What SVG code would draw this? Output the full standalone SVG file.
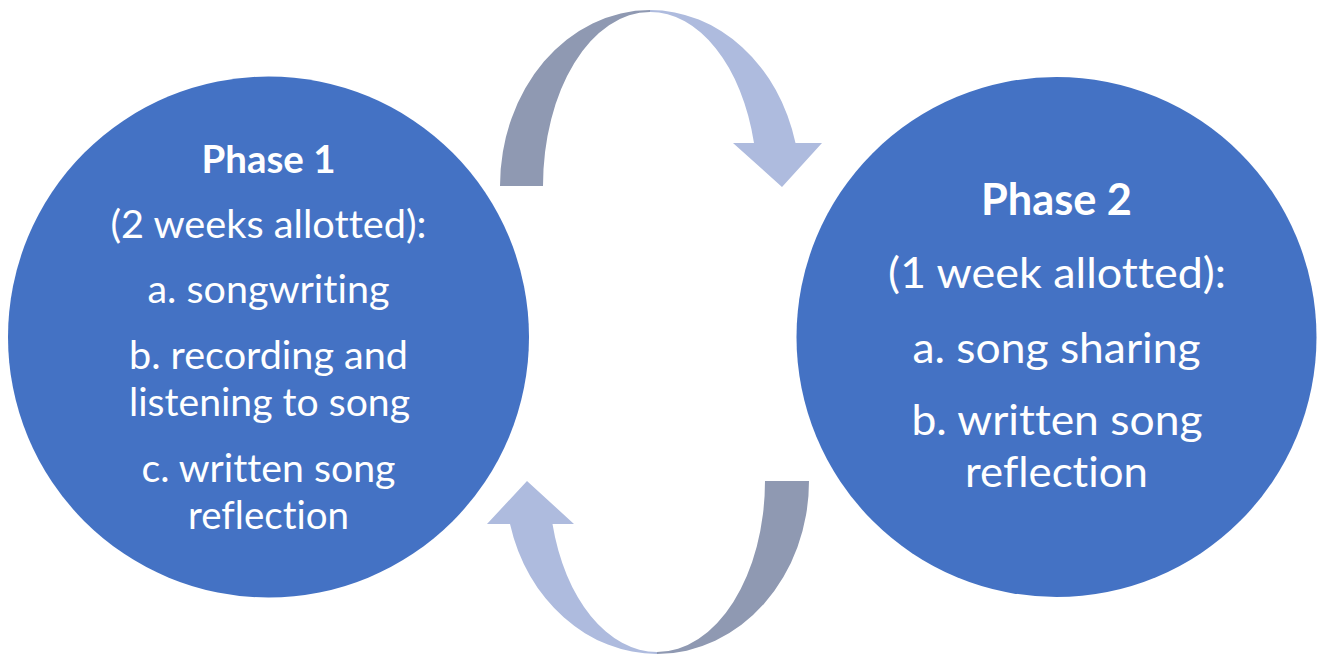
<svg xmlns="http://www.w3.org/2000/svg" width="1320" height="659" viewBox="0 0 1320 659">
<style>
.node{fill:#4472C4}
.t{font-family:Lato,"Liberation Sans",sans-serif;fill:#FFFFFF;text-anchor:middle;font-variant-ligatures:none}
.l{font-size:38px}
.r{font-size:43px}
.b{font-weight:bold}
.dark{fill:#8F99B2}
.light{fill:#AEBBDE}
</style>
<rect width="1320" height="659" fill="#FFFFFF"/>
<g id="phase1">
<circle class="node" cx="268.5" cy="337" r="260.5"/>
<text class="t l b" x="268.5" y="173" textLength="134" lengthAdjust="spacingAndGlyphs">Phase 1</text>
<text class="t l" x="268.5" y="238" textLength="316" lengthAdjust="spacingAndGlyphs">(2 weeks allotted):</text>
<text class="t l" x="268.5" y="303" textLength="242" lengthAdjust="spacingAndGlyphs">a. songwriting</text>
<text class="t l" x="268.5" y="369" textLength="279" lengthAdjust="spacingAndGlyphs">b. recording and</text>
<text class="t l" x="269.5" y="416" textLength="281" lengthAdjust="spacingAndGlyphs">listening to song</text>
<text class="t l" x="268.5" y="482" textLength="254" lengthAdjust="spacingAndGlyphs">c. written song</text>
<text class="t l" x="268.5" y="529" textLength="161" lengthAdjust="spacingAndGlyphs">reflection</text>
</g>
<g id="phase2">
<circle class="node" cx="1056.5" cy="337" r="260"/>
<text class="t r b" x="1056.5" y="215" textLength="151" lengthAdjust="spacingAndGlyphs">Phase 2</text>
<text class="t r" x="1057" y="288" textLength="338" lengthAdjust="spacingAndGlyphs">(1 week allotted):</text>
<text class="t r" x="1056.5" y="363" textLength="288" lengthAdjust="spacingAndGlyphs">a. song sharing</text>
<text class="t r" x="1057" y="435" textLength="291" lengthAdjust="spacingAndGlyphs">b. written song</text>
<text class="t r" x="1056.5" y="487" textLength="183" lengthAdjust="spacingAndGlyphs">reflection</text>
</g>
<g id="connectors">
<g id="arrow-top">
<path class="dark" d="M500 186 A150 176 0 0 1 650 10 L650 12 A107 174 0 0 0 543 186 Z"/>
<path class="light" d="M650 10 A150 176 0 0 1 795.5 143 L822 143 L782 187 L733 143 L754 143 A107 174 0 0 0 650 12 Z"/>
</g>
<g id="arrow-bottom">
<path class="dark" d="M809 481 A152 173 0 0 1 657 654 L657 652 A108 171 0 0 0 765 481 Z"/>
<path class="light" d="M657 654 A152 173 0 0 1 510 524 L487 524 L527 481 L574 524 L552.5 524 A108 171 0 0 0 657 652 Z"/>
</g>
</g>
</svg>
